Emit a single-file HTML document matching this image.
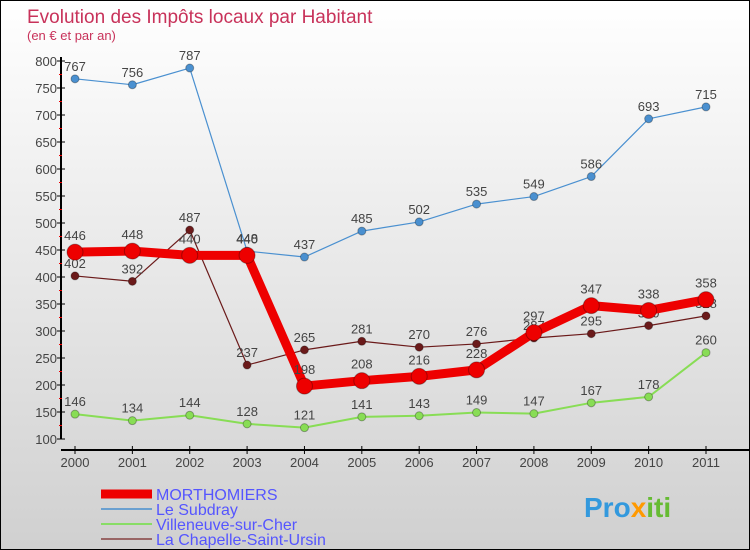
<!DOCTYPE html>
<html><head><meta charset="utf-8"><style>
html,body{margin:0;padding:0}
body{width:750px;height:550px;overflow:hidden;font-family:"Liberation Sans","DejaVu Sans",sans-serif}
#wrap{position:relative;width:748px;height:548px;border:1px solid #000;background:linear-gradient(#fff,#d0d0d0)}
</style></head><body>
<div id="wrap">
<svg id="chart" width="748" height="548" style="position:absolute;left:0;top:0">
<text x="26" y="22" font-size="19" fill="#c8325a">Evolution des Impôts locaux par Habitant</text>
<text x="26" y="39" font-size="13" fill="#c8325a">(en € et par an)</text>
<g id="axes"></g><g id="series"></g><g id="legend"></g>
<text x="583" y="516" font-size="28" font-weight="bold" fill="#3399dd">Pro<tspan fill="#ff9900">x</tspan><tspan fill="#66bb33">iti</tspan></text>
</svg>
</div>
<script>
const years=[2000,2001,2002,2003,2004,2005,2006,2007,2008,2009,2010,2011];
const morthomiers=[446,448,440,440,198,208,216,228,297,347,338,358];
const subdray=[767,756,787,448,437,485,502,535,549,586,693,715];
const villeneuve=[146,134,144,128,121,141,143,149,147,167,178,260];
const chapelle=[402,392,487,237,265,281,270,276,287,295,310,328];
const yTicks=[100,150,200,250,300,350,400,450,500,550,600,650,700,750,800];
const NS="http://www.w3.org/2000/svg";
const x=i=>74+i*(705-74)/11;
const y=v=>438-(v-100)*(438-60)/700;
function mk(tag,attrs,parent,txt){const e=document.createElementNS(NS,tag);for(const k in attrs)e.setAttribute(k,attrs[k]);if(txt!==undefined)e.textContent=txt;parent.appendChild(e);return e;}
const ax=document.getElementById('axes');
let l=mk('line',{x1:60,y1:56,x2:60,y2:438,stroke:'#000','stroke-width':2},ax);


l=mk('line',{x1:60,y1:449,x2:748,y2:449,stroke:'#000','stroke-width':2},ax);


yTicks.forEach((v,i)=>{
  mk('line',{x1:56,y1:y(v),x2:64,y2:y(v),stroke:'#000'},ax);
  if(i<yTicks.length-1)mk('line',{x1:58,y1:y(v+25),x2:61,y2:y(v+25),stroke:'#e00'},ax);
  const t=mk('text',{x:56,y:y(v)+5,'text-anchor':'end','font-size':13,fill:'#444'},ax,v);
  
  
});
years.forEach((yr,i)=>{
  mk('line',{x1:x(i),y1:445,x2:x(i),y2:453,stroke:'#000'},ax);
  const t=mk('text',{x:x(i),y:466,'text-anchor':'middle','font-size':13,fill:'#444'},ax,yr);
  
  
});
const sg=document.getElementById('series');
function series(vals,color,w,r,name,labelDy){
  const g=mk('g',{},sg);
  
  
  mk('polyline',{points:vals.map((v,i)=>x(i)+','+y(v)).join(' '),fill:'none',stroke:color,'stroke-width':w,'stroke-linejoin':'round'},g);
  vals.forEach((v,i)=>{
    const c=mk('circle',{cx:x(i),cy:y(v),r:r,fill:color,stroke:'rgba(0,0,0,0.3)','stroke-width':1},g);
    
    
    const t=mk('text',{x:x(i),y:y(v)-labelDy,'text-anchor':'middle','font-size':13,fill:'#444'},g,v);
    
    
  });
}
series(villeneuve,'#88dd55',2,4,'villeneuve',8);
series(chapelle,'#6b1a1a',1.2,4,'chapelle',8);
series(subdray,'#4a90d0',1.2,4,'subdray',8);
series(morthomiers,'#ee0000',9,8,'morthomiers',12);
const lg=document.getElementById('legend');
const items=[['MORTHOMIERS','#ee0000',9],['Le Subdray','#6aa0d0',2],['Villeneuve-sur-Cher','#88dd66',2],['La Chapelle-Saint-Ursin','#996666',2]];
items.forEach((it,i)=>{
  const yy=493+i*15;
  const g=mk('g',{},lg);
  
  
  mk('line',{x1:100,y1:yy,x2:151,y2:yy,stroke:it[1],'stroke-width':it[2]},g);
  mk('text',{x:155,y:yy+6,'font-size':16,fill:'#5555ff'},g,it[0]);
});
</script>
</body></html>
